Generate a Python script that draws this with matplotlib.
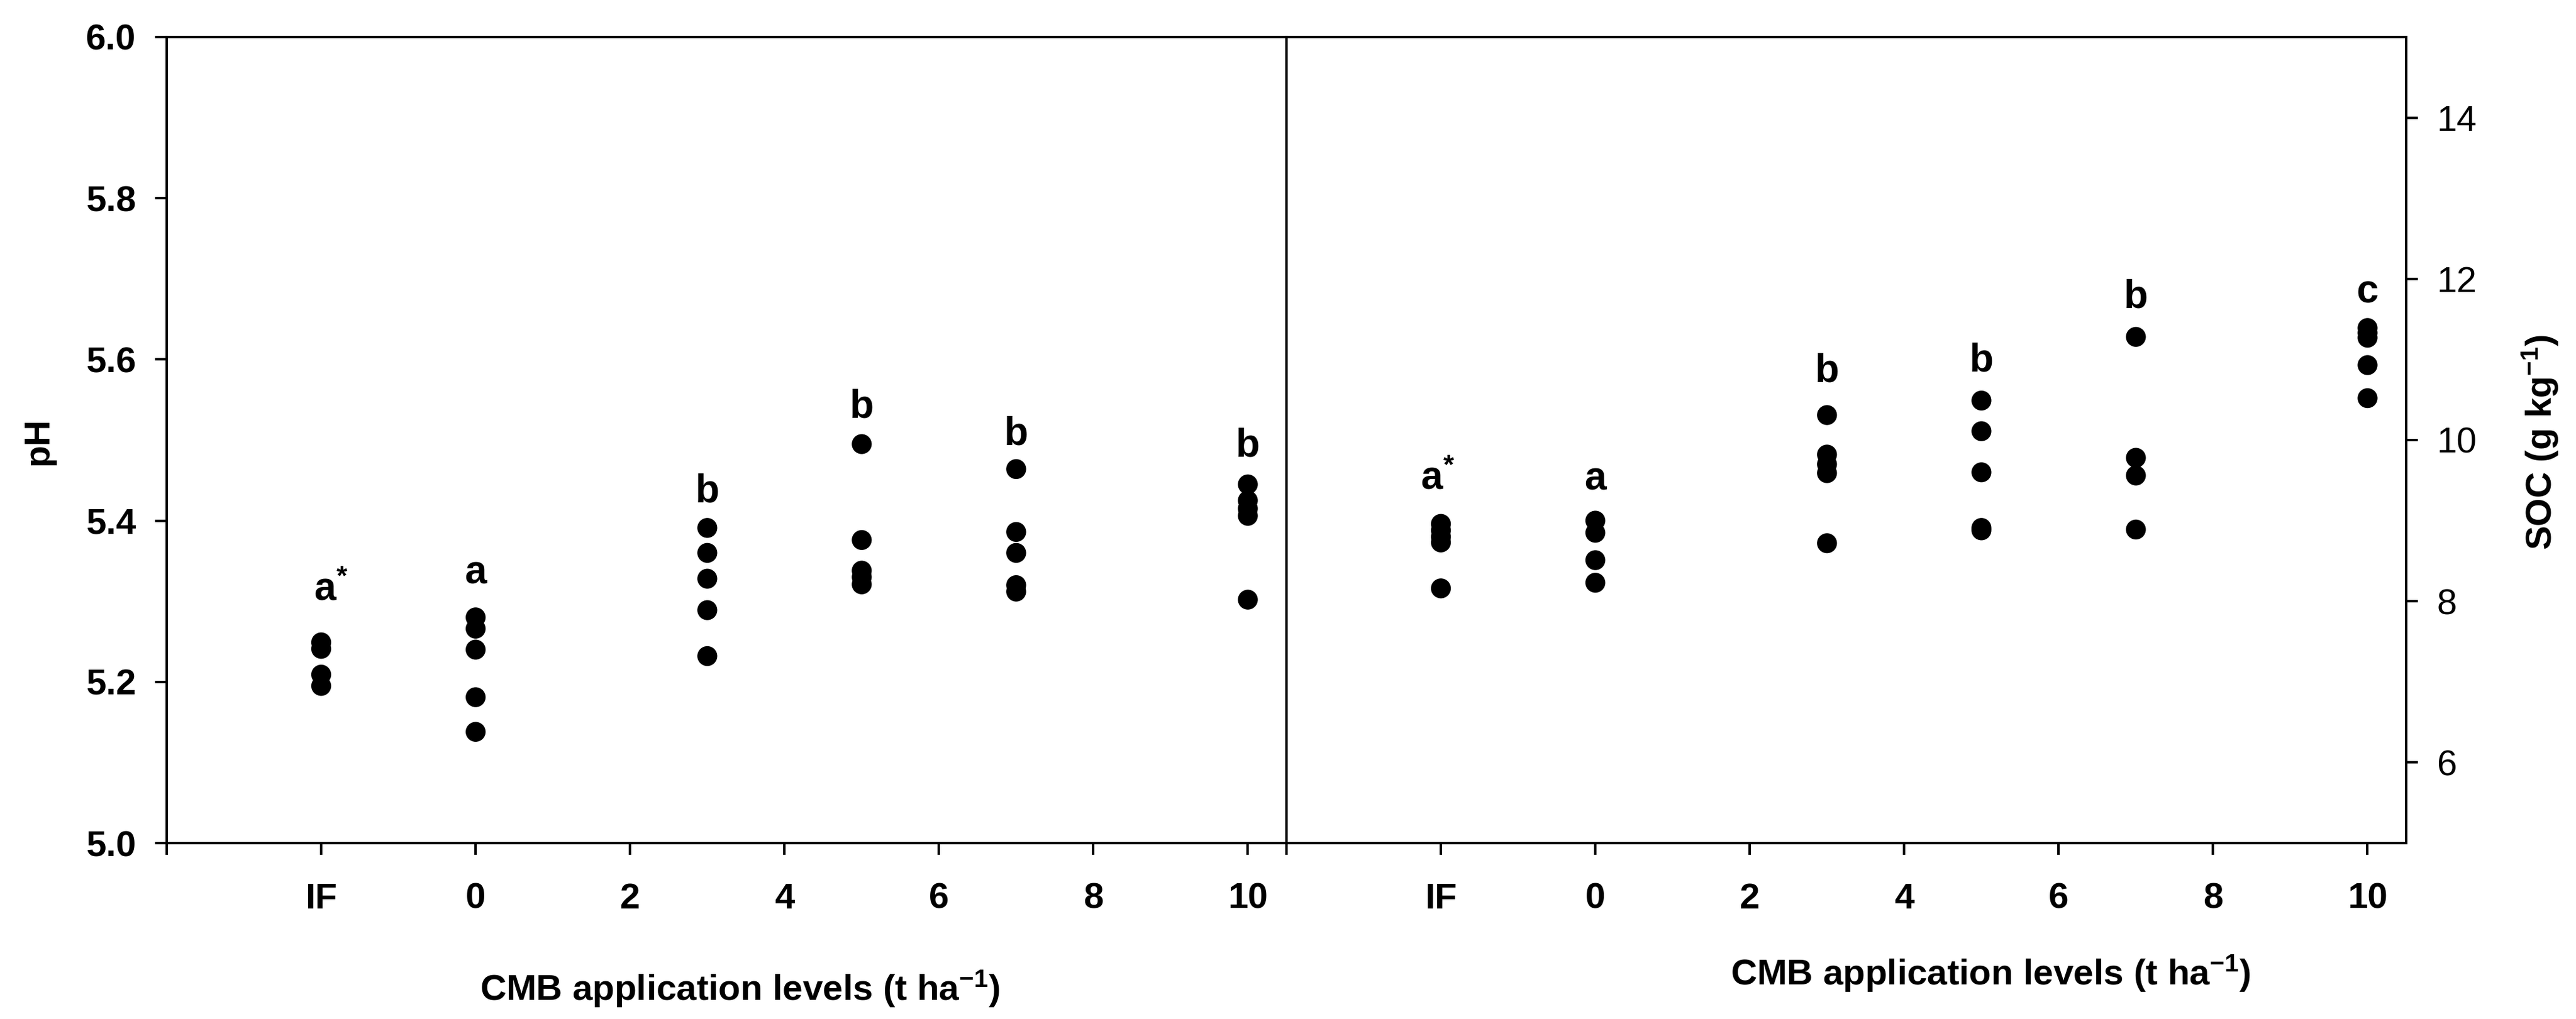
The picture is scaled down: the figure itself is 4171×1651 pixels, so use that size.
import matplotlib
matplotlib.use('Agg')
import matplotlib.pyplot as plt

plt.rcParams['font.family'] = ['Liberation Sans', 'DejaVu Sans']
plt.rcParams['mathtext.fontset'] = 'custom'
plt.rcParams['mathtext.rm'] = 'Liberation Sans:bold'
plt.rcParams['mathtext.bf'] = 'Liberation Sans:bold'
plt.rcParams['mathtext.it'] = 'Liberation Sans:bold'

# ---------------- data ----------------
# treatment positions on the x axis (IF drawn at -2)
treat_x = [-2, 0, 3, 5, 7, 10]
x_ticks = [-4, -2, 0, 2, 4, 6, 8, 10]
x_tick_labels = ['', 'IF', '0', '2', '4', '6', '8', '10']

ph_IF = [5.249, 5.241, 5.209, 5.195]
ph_0 = [5.280, 5.266, 5.240, 5.181, 5.138]
ph_3 = [5.391, 5.360, 5.328, 5.289, 5.232]
ph_5 = [5.495, 5.376, 5.338, 5.330, 5.321]
ph_7 = [5.464, 5.386, 5.360, 5.320, 5.312]
ph_10 = [5.445, 5.425, 5.415, 5.406, 5.302]

soc_IF = [8.96, 8.88, 8.80, 8.73, 8.16]
soc_0 = [9.00, 8.85, 8.51, 8.23]
soc_3 = [10.31, 9.82, 9.70, 9.59, 8.72]
soc_5 = [10.49, 10.11, 9.60, 8.91, 8.88]
soc_7 = [11.28, 9.78, 9.56, 8.89]
soc_10 = [11.39, 11.33, 11.27, 10.93, 10.52]

ph_letters = [r'a$^{*}$', 'a', 'b', 'b', 'b', 'b']
ph_letter_y = [5.301, 5.322, 5.423, 5.528, 5.494, 5.480]
soc_letters = [r'a$^{*}$', 'a', 'b', 'b', 'b', 'c']
soc_letter_y = [9.39, 9.38, 10.72, 10.85, 11.64, 11.70]

ph_ticks = [5.0, 5.2, 5.4, 5.6, 5.8, 6.0]
ph_tick_labels = ['5.0', '5.2', '5.4', '5.6', '5.8', '6.0']
soc_ticks = [6, 8, 10, 12, 14]
soc_tick_labels = ['6', '8', '10', '12', '14']

ph_groups = [ph_IF, ph_0, ph_3, ph_5, ph_7, ph_10]
soc_groups = [soc_IF, soc_0, soc_3, soc_5, soc_7, soc_10]

# ---------------- figure ----------------
W, H = 4171, 1651
fig = plt.figure(figsize=(W / 100, H / 100), dpi=100)
fig.patch.set_facecolor('white')

left_px, right_px, mid_px = 270, 3896, 2083
top_px, bot_px = 60, 1366
bottom = 1 - bot_px / H
height = (bot_px - top_px) / H
axL = fig.add_axes([left_px / W, bottom, (mid_px - left_px) / W, height])
axR = fig.add_axes([mid_px / W, bottom, (right_px - mid_px) / W, height])

LW = 2.9
TICK_FS = 42
LETTER_FS = 46

for ax in (axL, axR):
    ax.set_xlim(-4, 10.5)
    for sp in ax.spines.values():
        sp.set_linewidth(LW)
        sp.set_color('black')
    ax.set_xticks(x_ticks)
    ax.set_xticklabels(x_tick_labels, fontsize=TICK_FS, fontweight='bold')
    ax.tick_params(axis='x', direction='out', length=14, width=LW, pad=32, top=False)
    ax.set_facecolor('none')

# left panel: pH
axL.set_ylim(5.0, 6.0)
axL.set_yticks(ph_ticks)
axL.set_yticklabels(ph_tick_labels, fontsize=TICK_FS, fontweight='bold')
axL.tick_params(axis='y', direction='out', length=14, width=LW, pad=22, right=False)

# right panel: SOC
axR.set_ylim(5, 15)
axR.spines['left'].set_visible(False)
axR.yaxis.tick_right()
axR.set_yticks(soc_ticks)
axR.set_yticklabels(soc_tick_labels, fontsize=TICK_FS)
axR.tick_params(axis='y', direction='out', length=14, width=LW, pad=22, left=False)

# horizontal nudges (points) of the significance letters
letter_dx = {axL: [11, 0, 0, 0, 0, 0], axR: [-4, 0, 0, 0, 0, 0]}

for ax, groups, letters, ly in ((axL, ph_groups, ph_letters, ph_letter_y),
                                (axR, soc_groups, soc_letters, soc_letter_y)):
    for xv, vals in zip(treat_x, groups):
        ax.scatter([xv] * len(vals), vals, s=540, c='black', edgecolors='none',
                   zorder=3, clip_on=False)
    for xv, let, yv, dx in zip(treat_x, letters, ly, letter_dx[ax]):
        ax.annotate(let, xy=(xv, yv), xytext=(dx, 0), textcoords='offset points',
                    ha='center', va='baseline', fontsize=LETTER_FS,
                    fontweight='bold')

# axis labels
fig.text(77 / W, 1 - 715 / H, 'pH', rotation=90, rotation_mode='anchor',
         ha='center', va='baseline', fontsize=TICK_FS, fontweight='bold')
fig.text(4131 / W, 1 - 716 / H, r'SOC (g kg$^{-1}$)', rotation=90,
         rotation_mode='anchor', ha='center', va='baseline', fontsize=TICK_FS,
         fontweight='bold')
fig.text(1198 / W, 1 - 1620 / H, r'CMB application levels (t ha$^{-1}$)',
         ha='center', va='baseline', fontsize=TICK_FS, fontweight='bold')
fig.text(3223 / W, 1 - 1595 / H, r'CMB application levels (t ha$^{-1}$)',
         ha='center', va='baseline', fontsize=TICK_FS, fontweight='bold')

fig.savefig('out.png', dpi=100, facecolor='white')
